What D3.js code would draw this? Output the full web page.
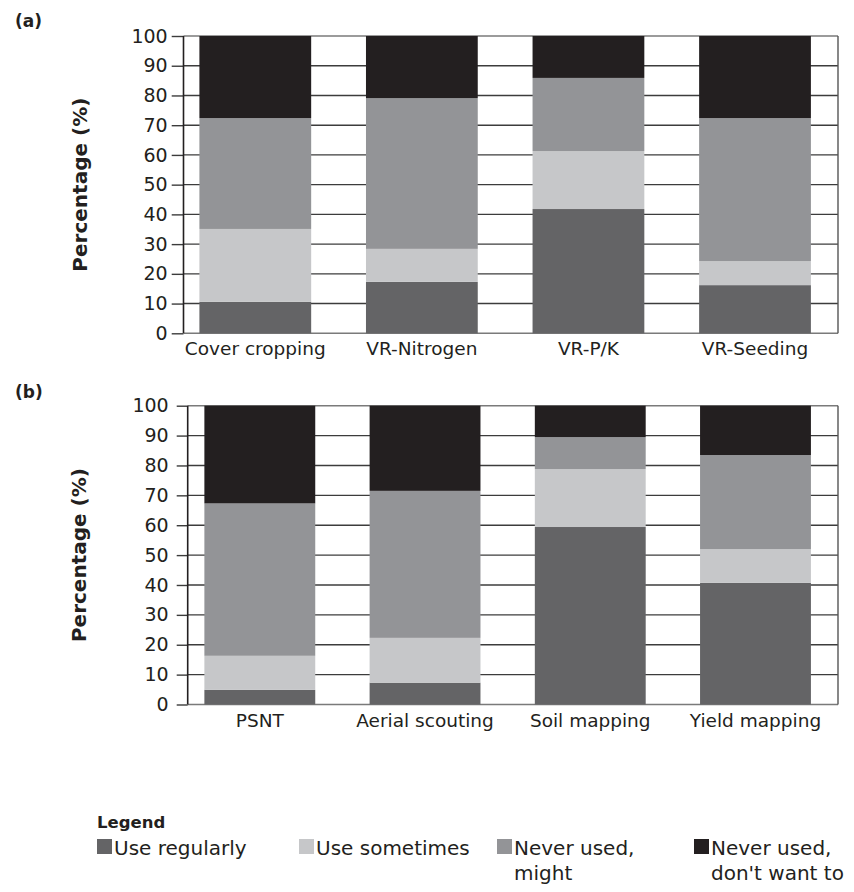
<!DOCTYPE html>
<html>
<head>
<meta charset="utf-8">
<script src="https://cdn.jsdelivr.net/npm/d3@7/dist/d3.min.js"></script>
<style>
  html, body { margin: 0; padding: 0; background: #ffffff; }
  svg { display: block; }
  text { font-family: "DejaVu Sans", sans-serif; fill: #231f20; }
</style>
</head>
<body>
<svg id="chart" width="854" height="892"></svg>
<script>
// ---------- DATA ----------
const seriesNames = ["Use regularly", "Use sometimes", "Never used, might", "Never used, don't want to"];
const seriesColors = ["#646466", "#c6c7c9", "#939497", "#231f20"];

const categoriesA = ["Cover cropping", "VR-Nitrogen", "VR-P/K", "VR-Seeding"];
const regularA   = [10.6, 17.3, 41.8, 16.2];
const sometimesA = [24.5, 11.1, 19.5, 8.1];
const mightA     = [37.3, 50.7, 24.6, 48.1];
const neverA     = [27.6, 20.9, 14.1, 27.6];

const categoriesB = ["PSNT", "Aerial scouting", "Soil mapping", "Yield mapping"];
const regularB   = [4.9, 7.3, 59.4, 40.7];
const sometimesB = [11.4, 15.0, 19.4, 11.3];
const mightB     = [51.0, 49.2, 10.7, 31.5];
const neverB     = [32.7, 28.5, 10.5, 16.5];

const yTicks = [0, 10, 20, 30, 40, 50, 60, 70, 80, 90, 100];
const panelLabels = ["(a)", "(b)"];
const yTitle = "Percentage (%)";
const legendTitle = "Legend";
const legendLines = [["Use regularly"], ["Use sometimes"], ["Never used,", "might"], ["Never used,", "don't want to"]];

// ---------- DRAW ----------
const svg = d3.select("#chart");

function drawPanel(cfg) {
  const g = svg.append("g");
  const y = d3.scaleLinear().domain([0, 100]).range([cfg.bottom, cfg.top]);
  const x = d3.scaleBand().domain(cfg.categories)
    .range([cfg.bandStart, cfg.bandEnd])
    .paddingInner(0.329).paddingOuter(0.1645);

  // gridlines
  g.append("g").selectAll("line").data(yTicks).join("line")
    .attr("x1", cfg.axisX).attr("x2", cfg.right)
    .attr("y1", d => y(d)).attr("y2", d => y(d))
    .attr("stroke", d => (d === 100 || d === 0) ? "#7a7a7a" : "#3c3c3c")
    .attr("stroke-width", 1.4);

  // stacked bars
  const rows = cfg.categories.map((c, i) => {
    const o = { cat: c };
    cfg.series.forEach((s, k) => o["s" + k] = s[i]);
    return o;
  });
  const stack = d3.stack().keys(cfg.series.map((s, k) => "s" + k))(rows);
  g.append("g").selectAll("g").data(stack).join("g")
    .attr("fill", (d, k) => seriesColors[k])
    .selectAll("rect").data(d => d).join("rect")
    .attr("x", d => x(d.data.cat))
    .attr("width", x.bandwidth())
    .attr("y", d => y(Math.min(d[1], 100)))
    .attr("height", d => y(d[0]) - y(Math.min(d[1], 100)));

  // right border
  g.append("line")
    .attr("x1", cfg.right).attr("x2", cfg.right)
    .attr("y1", y(100)).attr("y2", y(0))
    .attr("stroke", "#555").attr("stroke-width", 1.4);

  // y axis
  const ax = g.append("g")
    .attr("transform", `translate(${cfg.axisX},0)`)
    .call(d3.axisLeft(y).tickValues(yTicks).tickSizeInner(cfg.tickLen).tickSizeOuter(0).tickPadding(cfg.tickPad));
  ax.select(".domain").remove();
  ax.selectAll(".tick line").attr("stroke", "#3c3c3c").attr("stroke-width", 1.4);
  ax.selectAll(".tick text")
    .attr("font-family", "DejaVu Sans, sans-serif")
    .attr("font-size", 19).attr("fill", "#231f20");
  g.append("line")
    .attr("x1", cfg.axisX).attr("x2", cfg.axisX)
    .attr("y1", y(100)).attr("y2", y(0))
    .attr("stroke", "#231f20").attr("stroke-width", 1.6);

  // x labels
  g.append("g").selectAll("text").data(cfg.categories).join("text")
    .attr("x", d => x(d) + x.bandwidth() / 2)
    .attr("y", y(0) + 22)
    .attr("text-anchor", "middle")
    .attr("font-size", 18.5)
    .text(d => d);

  // y title
  g.append("text")
    .attr("transform", `translate(${cfg.titleX},${(y(0) + y(100)) / 2}) rotate(-90)`)
    .attr("text-anchor", "middle")
    .attr("font-weight", "bold")
    .attr("font-size", 20)
    .text(yTitle);

  // panel label
  g.append("text")
    .attr("x", 15).attr("y", cfg.labelY)
    .attr("font-weight", "bold").attr("font-size", 17)
    .text(cfg.label);
}

drawPanel({
  categories: categoriesA,
  series: [regularA, sometimesA, mightA, neverA],
  top: 36, bottom: 333.3, axisX: 183.5, right: 838,
  bandStart: 172, bandEnd: 838.3, tickLen: 11.8, tickPad: 4,
  titleX: 87, label: panelLabels[0], labelY: 27
});

drawPanel({
  categories: categoriesB,
  series: [regularB, sometimesB, mightB, neverB],
  top: 405.7, bottom: 704.5, axisX: 187.7, right: 838,
  bandStart: 177.2, bandEnd: 838.1, tickLen: 11, tickPad: 8,
  titleX: 86, label: panelLabels[1], labelY: 398
});

// legend
const lg = svg.append("g");
lg.append("text").attr("x", 97).attr("y", 828)
  .attr("font-weight", "bold").attr("font-size", 16.5).text(legendTitle);
const legendX = [97, 299, 497, 694];
legendLines.forEach((lines, k) => {
  lg.append("rect").attr("x", legendX[k]).attr("y", 839)
    .attr("width", 15).attr("height", 15).attr("fill", seriesColors[k]);
  const t = lg.append("text").attr("font-size", 20);
  lines.forEach((ln, j) => {
    t.append("tspan").attr("x", legendX[k] + 17).attr("y", 855 + j * 25).text(ln);
  });
});
</script>
</body>
</html>
